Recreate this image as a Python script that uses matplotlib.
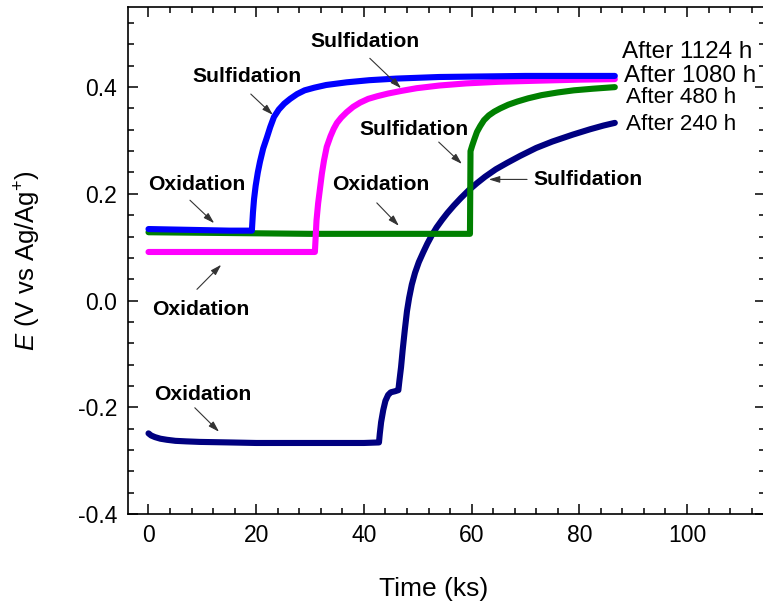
import matplotlib
matplotlib.use("Agg")
import matplotlib.pyplot as plt
from matplotlib.ticker import MultipleLocator

plt.rcParams['font.family'] = ['Liberation Sans', 'DejaVu Sans']
plt.rcParams['mathtext.fontset'] = 'custom'
plt.rcParams['mathtext.rm'] = 'Liberation Sans'
plt.rcParams['mathtext.it'] = 'Liberation Sans:italic'

# potential transients (time in ks, E in V vs Ag/Ag+)
t_240 = [0, 0.5, 1.2, 2.2, 3.4, 5, 7, 9.5, 15, 20, 25, 30, 35, 40, 42.8,
         42.95, 43.2, 43.6, 44.0, 44.5, 45.0, 45.8, 46.4, 46.6, 46.9, 47.2,
         47.6, 48.0, 48.4, 48.9, 49.5, 50.2, 51.0, 51.8, 52.6, 53.5, 54.5,
         55.5, 56.7, 58.0, 59.5, 61.0, 62.5, 64.5, 66.6, 69.0, 72.0, 75.0,
         78.8, 82.0, 84.5, 86.6]
e_240 = [-0.249, -0.253, -0.256, -0.259, -0.261, -0.263, -0.264, -0.265,
         -0.266, -0.267, -0.267, -0.267, -0.267, -0.267, -0.266, -0.250,
         -0.228, -0.205, -0.188, -0.177, -0.172, -0.170, -0.168, -0.150,
         -0.125, -0.093, -0.055, -0.020, 0.005, 0.030, 0.052, 0.072, 0.090,
         0.107, 0.122, 0.137, 0.151, 0.164, 0.178, 0.192, 0.207, 0.220, 0.232,
         0.246, 0.258, 0.271, 0.286, 0.298, 0.311, 0.321, 0.328, 0.333]

t_480 = [0, 10, 20, 30, 40, 50, 59.7, 59.8, 60.1, 60.5, 61.0, 61.6, 62.3,
         63.2, 64.2, 65.3, 66.8, 68.5, 70.5, 73, 76, 79, 82.5, 86.6]
e_480 = [0.128, 0.127, 0.126, 0.125, 0.125, 0.125, 0.125, 0.280, 0.290,
         0.302, 0.316, 0.327, 0.338, 0.347, 0.354, 0.360, 0.367, 0.373, 0.379,
         0.385, 0.390, 0.394, 0.397, 0.400]

t_1080 = [0, 10, 20, 30.9, 31.0, 31.2, 31.5, 31.85, 32.2, 32.6, 33.1, 33.8,
          34.4, 35.0, 35.8, 36.8, 38.0, 39.3, 40.8, 42.5, 44.5, 47, 49.8, 54,
          59, 65, 72, 80, 86.6]
e_1080 = [0.091, 0.091, 0.091, 0.091, 0.110, 0.150, 0.182, 0.210, 0.238,
          0.263, 0.288, 0.308, 0.322, 0.333, 0.343, 0.353, 0.363, 0.371,
          0.378, 0.383, 0.388, 0.393, 0.398, 0.403, 0.407, 0.410, 0.412,
          0.414, 0.415]

t_1124 = [0, 5, 10, 15, 19.2, 19.25, 19.4, 19.6, 19.9, 20.3, 20.7, 21.3,
          22.0, 22.6, 23.3, 24.2, 25.2, 26.3, 27.6, 29.0, 30.8, 33, 36.8, 41,
          46, 54, 62, 70, 86.6]
e_1124 = [0.134, 0.133, 0.132, 0.131, 0.131, 0.140, 0.165, 0.190, 0.215,
          0.240, 0.260, 0.285, 0.306, 0.325, 0.344, 0.358, 0.369, 0.378,
          0.387, 0.394, 0.399, 0.404, 0.409, 0.413, 0.416, 0.419, 0.420,
          0.421, 0.421]

series = [
    (t_240, e_240, '#000080', 'After 240 h'),
    (t_480, e_480, '#008000', 'After 480 h'),
    (t_1080, e_1080, '#ff00ff', 'After 1080 h'),
    (t_1124, e_1124, '#0000ff', 'After 1124 h'),
]

# curve labels: (text, x, baseline y, size)
curve_labels = [
    ('After 1124 h', 88.0, 0.454, 17.5),
    ('After 1080 h', 88.3, 0.410, 17.5),
    ('After 480 h', 88.7, 0.370, 16.2),
    ('After 240 h', 88.7, 0.320, 16.2),
]

# stage annotations: (text, text x, text baseline y, arrow tail, arrow head)
stages = [
    ('Sulfidation', 18.3, 0.410, (19.0, 0.387), (23.1, 0.348)),
    ('Sulfidation', 40.2, 0.475, (41.1, 0.454), (46.9, 0.398)),
    ('Sulfidation', 49.3, 0.310, (53.9, 0.297), (58.2, 0.256)),
    ('Sulfidation', 81.6, 0.2165, (70.3, 0.227), (63.2, 0.227)),
    ('Oxidation', 9.0, 0.207, (7.7, 0.188), (12.2, 0.145)),
    ('Oxidation', 43.2, 0.207, (42.4, 0.183), (46.5, 0.140)),
    ('Oxidation', 9.7, -0.027, (9.0, 0.021), (13.5, 0.067)),
    ('Oxidation', 10.1, -0.1865, (8.6, -0.201), (13.1, -0.246)),
]

fig = plt.figure(figsize=(7.63, 6.02), dpi=100)
ax = fig.add_axes([0.1678, 0.1463, 0.8349, 0.8419])

for t, e, c, _ in series:
    ax.plot(t, e, color=c, lw=4.4, solid_capstyle='round',
            solid_joinstyle='round')

for txt, x, y, size in curve_labels:
    ax.text(x, y, txt, fontsize=size, ha='left', va='baseline',
            clip_on=False)

for txt, x, y, tail, head in stages:
    ax.text(x, y, txt, fontsize=15.2, fontweight='bold', ha='center',
            va='baseline')
    ax.annotate('', xy=head, xytext=tail,
                arrowprops=dict(arrowstyle='-|>,head_length=0.65,head_width=0.2',
                                color='0.2', lw=0.8, shrinkA=0, shrinkB=0))

ax.set_xlim(-3.8, 114.5)
ax.set_ylim(-0.4, 0.55)
ax.xaxis.set_major_locator(MultipleLocator(20))
ax.xaxis.set_minor_locator(MultipleLocator(4))
ax.yaxis.set_major_locator(MultipleLocator(0.2))
ax.yaxis.set_minor_locator(MultipleLocator(0.04))
ax.yaxis.set_major_formatter(plt.FuncFormatter(lambda v, p: f'{v:.1f}'))

ax.tick_params(which='both', direction='in', top=True, right=True,
               width=1.1, labelsize=16.5)
ax.tick_params(which='major', length=7.5)
ax.tick_params(which='minor', length=4)
ax.tick_params(axis='x', pad=7.5)
ax.tick_params(axis='y', pad=8)
for s in ax.spines.values():
    s.set_linewidth(1.2)

ax.set_xlabel('Time (ks)', fontsize=19)
ax.xaxis.set_label_coords(0.479, -0.125)
ax.set_ylabel(r'$\it{E}$ (V vs Ag/Ag$^{+}$)', fontsize=18.5)
ax.yaxis.set_label_coords(-0.133, 0.5)

fig.savefig('out.png', dpi=100)
